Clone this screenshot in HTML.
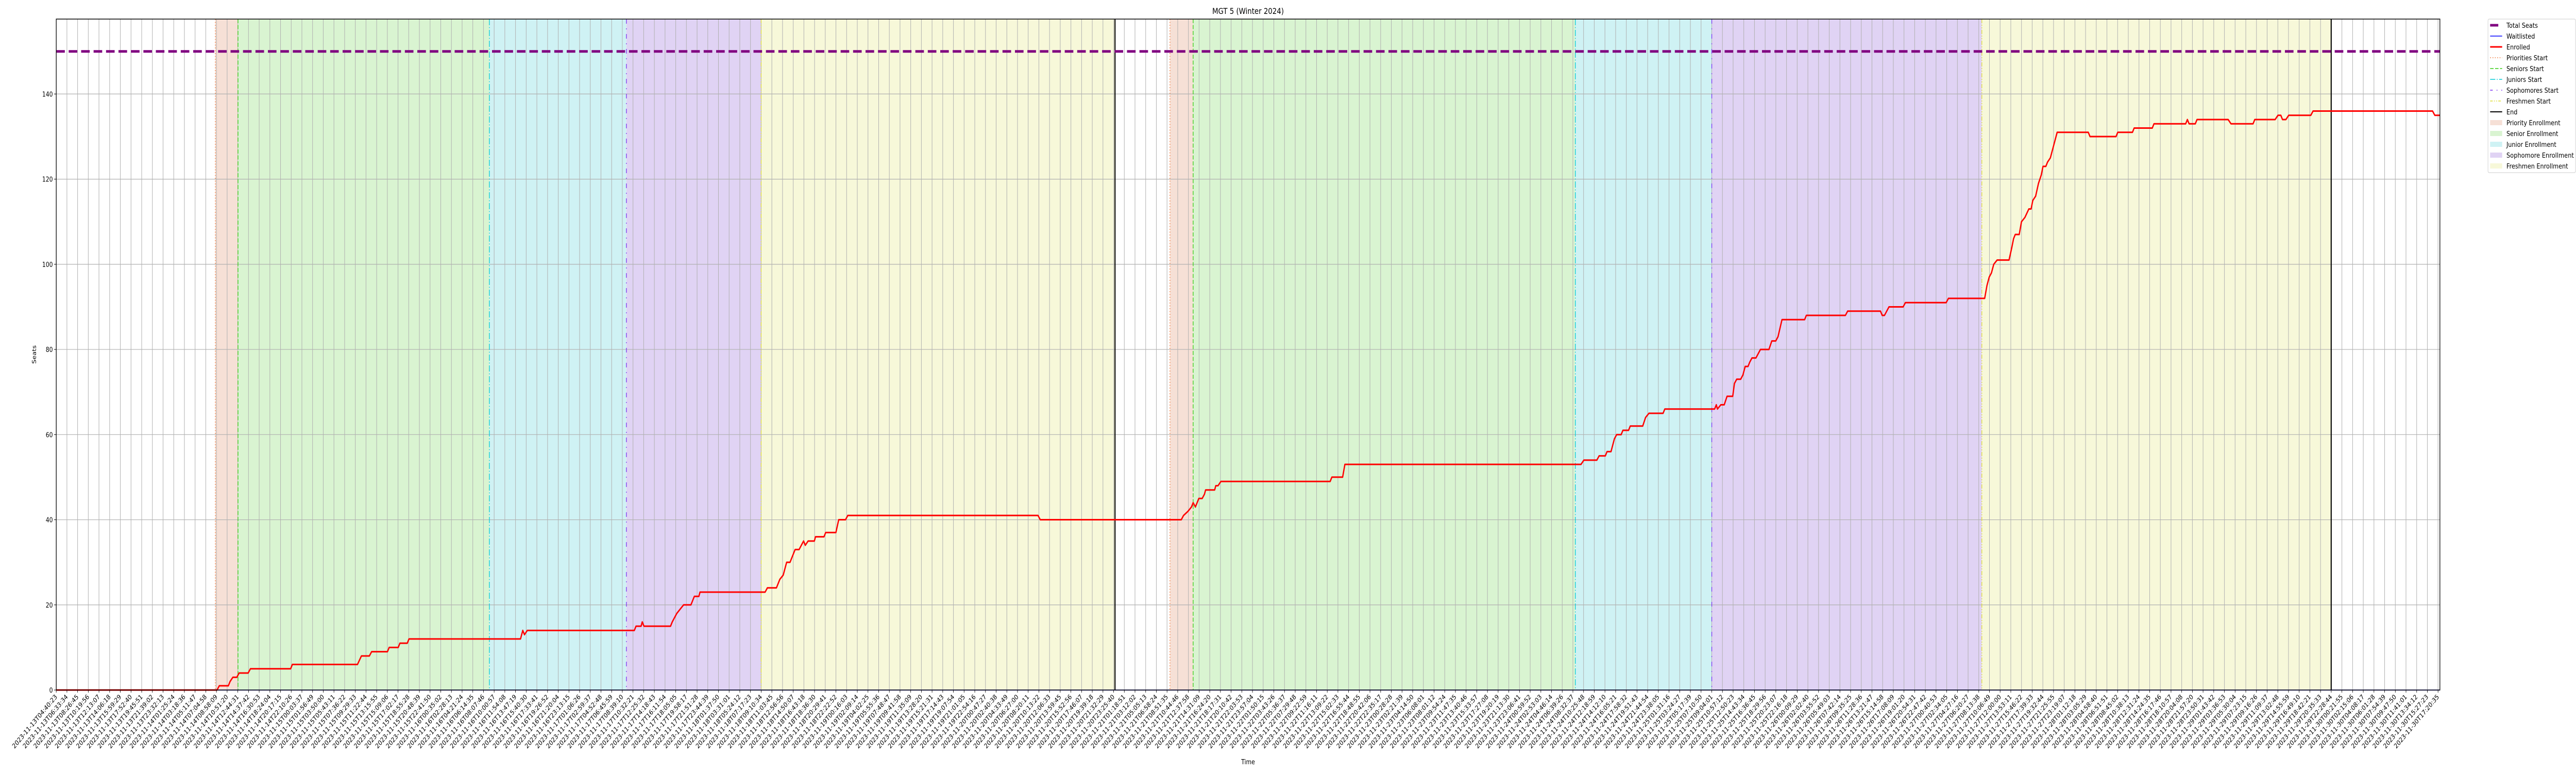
<!DOCTYPE html>
<html><head><meta charset="utf-8"><style>
html,body{margin:0;padding:0;background:#fff;width:100%;height:100%;overflow:hidden;}
svg{display:block;position:absolute;left:0;top:0;width:100vw;height:100vh;overflow:hidden;font-family:"DejaVu Sans","Liberation Sans",sans-serif;}
</style></head><body>
<svg id="chart" viewBox="0 0 6000 1500" preserveAspectRatio="none" xmlns="http://www.w3.org/2000/svg">
<rect width="6000" height="1500" fill="#fff"/>
<g id="bands"></g><g id="grid"></g><g id="vlines"></g><g id="series"></g><g id="axes"></g><g id="legend"></g>
</svg>
<script>
// ---- data ----
const startTime = "2023-11-13T04:40:23";
const endTickHours = 420.67;
const tickCount = 224;
const xMaxHours = 421.0;
const yTicks = [0,20,40,60,80,100,120,140];
const totalSeats = 150;
const enrollHours = [0,28.4,28.8,30.4,30.7,31.2,31.9,32.3,33.9,34.3,41.4,41.7,53.2,53.9,55.3,55.7,58.5,58.8,60.4,60.7,62.0,62.3,82.0,82.4,82.7,83.2,102.1,102.4,103.3,103.5,103.8,108.5,108.8,109.6,110.8,112.1,112.7,113.5,113.7,125.2,125.6,127.2,127.8,128.4,129.0,129.6,129.9,130.5,131.2,131.6,132.0,132.3,132.8,133.9,134.1,135.6,135.9,137.7,138.2,139.4,139.8,173.4,173.8,198.7,199.1,199.9,200.5,200.8,201.2,201.8,202.4,202.8,203.0,204.6,204.8,205.2,205.7,225.0,225.3,227.2,227.6,269.3,269.8,272.1,272.5,273.6,273.9,274.6,275.2,275.6,276.4,276.7,277.7,278.0,280.2,280.7,281.3,283.8,284.1,292.9,293.2,293.4,294.0,294.6,295.1,296.1,296.4,296.8,297.5,297.9,298.3,298.8,299.1,299.5,300.2,300.6,301.0,302.5,303.0,303.7,304.1,304.8,308.8,309.1,316.0,316.4,322.2,322.5,322.9,323.7,326.2,326.6,333.8,334.2,340.6,341.0,341.4,341.8,342.2,342.8,344.9,345.4,345.7,346.0,346.7,347.1,347.7,348.4,348.8,349.1,349.6,350.1,350.6,350.9,351.4,351.7,352.2,352.6,353.0,353.4,358.9,359.2,363.8,364.1,366.7,367.0,370.2,370.5,376.1,376.4,376.7,377.8,378.1,383.6,384.1,388.0,388.3,391.9,392.4,392.9,393.2,393.8,394.3,398.2,398.6,419.7,420.1,421.0];
const enrollValues = [0,0,1,1,2,3,3,4,4,5,5,6,6,8,8,9,9,10,10,11,11,12,12,14,13,14,14,15,15,16,15,15,16,18,20,20,22,22,23,23,24,24,26,27,30,30,31,33,33,34,35,34,35,35,36,36,37,37,40,40,41,41,40,40,41,42,43,44,43,45,45,46,47,47,48,48,49,49,50,50,53,53,54,54,55,55,56,56,59,60,60,61,61,62,62,64,65,65,66,66,67,66,67,67,69,69,72,73,73,74,76,76,77,78,78,79,80,80,82,82,83,87,87,88,88,89,89,88,88,90,90,91,91,92,92,95,97,98,100,101,101,104,106,107,107,110,111,113,113,115,116,119,121,123,123,124,125,127,129,131,131,130,130,131,131,132,132,133,133,134,133,133,134,134,133,133,134,134,135,135,134,134,135,135,136,136,135,135];
const waitHours = [0,421.0];
const waitValues = [0,0];
const phaseNames = ["priority","senior","junior","sophomore","freshmen"];
const round1Starts = [28.1,32.1,76.5,100.7,124.5];
const round1End = 187.0;
const round2Starts = [196.7,200.8,268.3,292.4,340.1];
const round2End = 401.8;

// ---- layout ----
const L=131,R=5683,T=37,B=1339,yMax=157.6;
const NS="http://www.w3.org/2000/svg";
function x(h){return L+(R-L)*h/xMaxHours;}
function y(v){return B-(B-T)*v/yMax;}
function mk(tag,attrs,parent){const e=document.createElementNS(NS,tag);for(const k in attrs)e.setAttribute(k,attrs[k]);parent.appendChild(e);return e;}
const bandFill={priority:"#f6e0d6",senior:"#d9f4d1",junior:"#cff2f4",sophomore:"#e0d3f4",freshmen:"#f7f8d9"};
const lineStyle={priority:["#f07a3c","2,3.5"],senior:["#33cc11","8,3.5"],junior:["#00cad6","12,3.5,2,3.5"],sophomore:["#7a2ff0","9,9,2,9"],freshmen:["#dede33","8,3,2,3,2,3"]};

const bands=document.getElementById('bands'),grid=document.getElementById('grid'),vl=document.getElementById('vlines'),ser=document.getElementById('series'),ax=document.getElementById('axes'),lg=document.getElementById('legend');

[[round1Starts,round1End],[round2Starts,round2End]].forEach(([starts,end])=>{
  starts.forEach((s,i)=>{
    const e=i<starts.length-1?starts[i+1]:end;
    const r=mk('rect',{x:x(s),y:T,width:x(e)-x(s),height:B-T,fill:bandFill[phaseNames[i]]},bands);
    
    
  });
});
const base=new Date(startTime+"Z").getTime();
function fmt(t){return new Date(t).toISOString().slice(0,19);}
for(let i=0;i<tickCount;i++){
  const h=endTickHours*i/(tickCount-1);
  const xx=x(h);
  const gl=mk('line',{x1:xx,x2:xx,y1:T,y2:B,stroke:"#b0b0b0","stroke-width":1.2},grid);
  
  
  mk('line',{x1:xx,x2:xx,y1:B,y2:B+5,stroke:"#000","stroke-width":1},ax);
  const t=mk('text',{x:xx+3,y:B+14,"font-size":13,"text-anchor":"end",transform:`rotate(-45 ${xx+3} ${B+14})`,fill:"#000"},ax);
  t.textContent=fmt(base+h*3600000);
  
  
}
yTicks.forEach(v=>{
  const yy=y(v);
  const gl=mk('line',{x1:L,x2:R,y1:yy,y2:yy,stroke:"#b0b0b0","stroke-width":1.2},grid);
  
  
  mk('line',{x1:L-5,x2:L,y1:yy,y2:yy,stroke:"#000","stroke-width":1},ax);
  const t=mk('text',{x:L-8,y:yy+5,"font-size":13,"text-anchor":"end",fill:"#000"},ax);
  t.textContent=v;
  
  
});
[round1Starts,round2Starts].forEach(starts=>starts.forEach((s,i)=>{
  const st=lineStyle[phaseNames[i]];
  const l=mk('line',{x1:x(s),x2:x(s),y1:T,y2:B,stroke:st[0],"stroke-width":1.5,"stroke-dasharray":st[1]},vl);
  
  
}));
[round1End,round2End].forEach(e=>{
  const l=mk('line',{x1:x(e),x2:x(e),y1:T,y2:B,stroke:"#000","stroke-width":2.5},vl);
  
  
});
const ts=mk('line',{x1:L,x2:R,y1:y(totalSeats),y2:y(totalSeats),stroke:"#800080","stroke-width":5,"stroke-dasharray":"20,9"},ser);


const wl=mk('polyline',{points:waitHours.map((h,i)=>x(h)+","+y(waitValues[i])).join(" "),fill:"none",stroke:"#0000ff","stroke-width":1.5},ser);


const en=mk('polyline',{points:enrollHours.map((h,i)=>x(h)+","+y(enrollValues[i])).join(" "),fill:"none",stroke:"#ff0000","stroke-width":3,"stroke-linejoin":"round"},ser);


const fr=mk('rect',{x:L,y:T,width:R-L,height:B-T,fill:"none",stroke:"#000","stroke-width":1.5},ax);


const tt=mk('text',{x:(L+R)/2,y:27,"font-size":16,"text-anchor":"middle"},ax);tt.textContent="MGT 5 (Winter 2024)";


const yl=mk('text',{x:84,y:688,"font-size":13,"text-anchor":"middle",transform:"rotate(-90 84 688)"},ax);yl.textContent="Seats";


const xl=mk('text',{x:(L+R)/2,y:1483,"font-size":13,"text-anchor":"middle"},ax);xl.textContent="Time";


const lb=mk('rect',{x:5795,y:37,width:204,height:298,rx:3,fill:"#fff",stroke:"#ccc","stroke-width":1},lg);


const legendItems=[
 ["Total Seats","line","#800080",5,""],["Waitlisted","line","#0000ff",1.5,""],["Enrolled","line","#ff0000",3,""],
 ["Priorities Start","line","#f07a3c",1.5,"2,3.5"],["Seniors Start","line","#33cc11",1.5,"8,3.5"],["Juniors Start","line","#00cad6",1.5,"12,3.5,2,3.5"],
 ["Sophomores Start","line","#7a2ff0",1.5,"6,9,2,9"],["Freshmen Start","line","#dede33",1.5,"6,3,2,3,2,3"],["End","line","#000",2,""],
 ["Priority Enrollment","patch","#f6e0d6"],["Senior Enrollment","patch","#d9f4d1"],["Junior Enrollment","patch","#cff2f4"],
 ["Sophomore Enrollment","patch","#e0d3f4"],["Freshmen Enrollment","patch","#f7f8d9"]];
legendItems.forEach((it,i)=>{
  const cy=49+i*21;
  const g=mk('g',{},lg);
  
  
  if(it[1]==="line"){
    const a={x1:5800,x2:5828,y1:cy,y2:cy,stroke:it[2],"stroke-width":it[3]};
    if(it[4])a["stroke-dasharray"]=it[4];
    if(i===0){a.x2=5819;}
    mk('line',a,g);
  } else mk('rect',{x:5800,y:cy-5,width:28,height:10,fill:it[2]},g);
  const t=mk('text',{x:5838,y:cy+5,"font-size":13.5},g);
  if(it[0]==="Sophomore Enrollment")t.setAttribute('textLength','157');
  t.textContent=it[0];
});
</script>
</body></html>
